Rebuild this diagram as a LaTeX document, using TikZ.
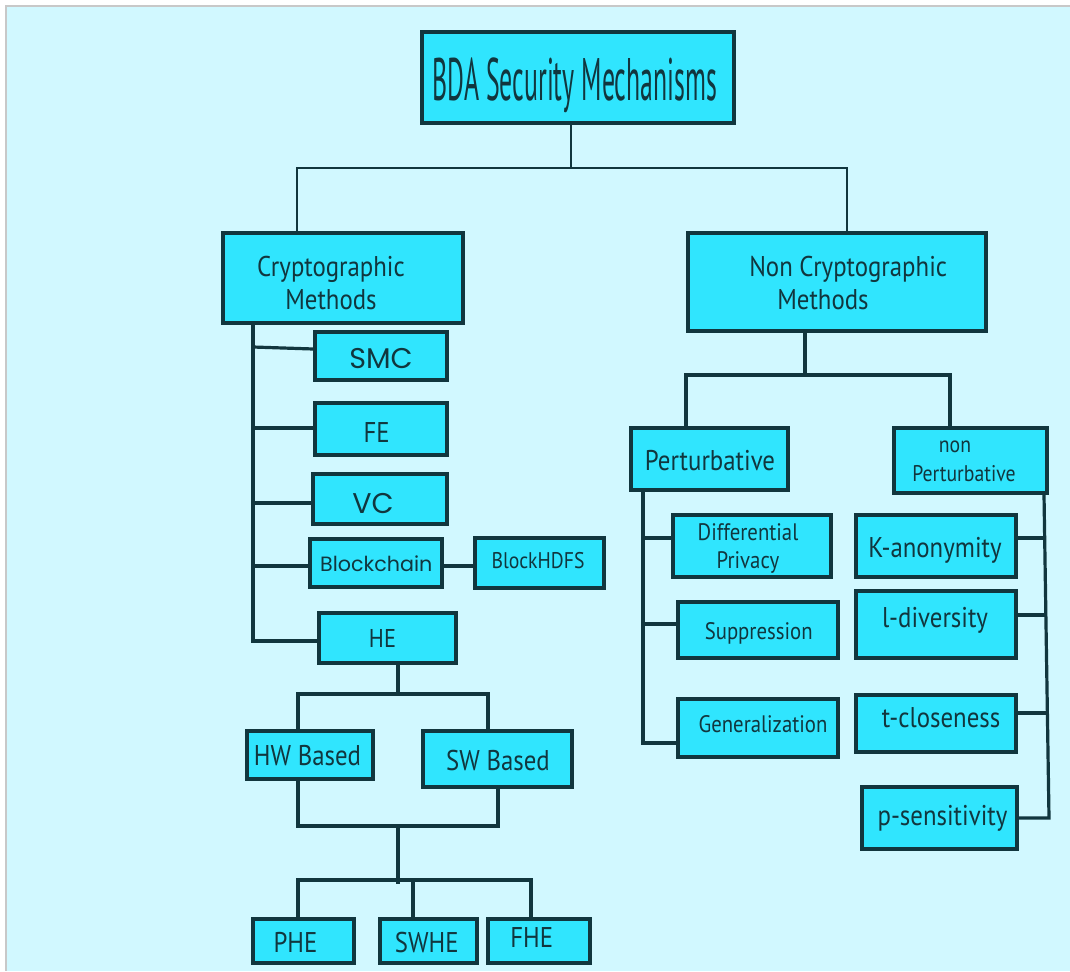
\documentclass[tikz,border=0pt]{standalone}
\usepackage{fontspec}
\setmainfont{PT Sans}[FakeStretch=0.87]
\newfontfamily\titlefont{PT Sans}[FakeStretch=0.43]
\newfontfamily\widefont{Poppins}
\usetikzlibrary{calc}
\definecolor{bgc}{HTML}{D1F8FF}
\definecolor{boxfill}{HTML}{30E5FE}
\definecolor{ink}{HTML}{11363E}
\definecolor{framec}{HTML}{C8C8C8}
\newcommand\mybox[9]{%
  \node[box,sz={#4}{#5}] (#1) at (#2,#3) {};
  \node[txt,#8] (#1T) at (#6,#7) {#9};}
\begin{document}
\begin{tikzpicture}[x=0.75pt,y=-0.75pt,
  box/.style={draw=ink,fill=boxfill,line width=2.6pt,inner sep=0pt},
  sz/.style 2 args={minimum width={#1*0.75pt},minimum height={#2*0.75pt}},
  txt/.style={inner sep=0pt,text=ink,anchor=base},
  conn/.style={draw=ink,line width=2.4pt},
  tconn/.style={draw=ink,line width=2pt},
  ft/.style={font=\titlefont\fontsize{45}{50}\selectfont},
  f20/.style={font=\fontsize{21.4}{24.75}\selectfont},
  f19/.style={font=\fontsize{19.3}{22}\selectfont},
  f18/.style={font=\fontsize{17.9}{21}\selectfont},
  f17/.style={font=\fontsize{17}{21.75}\selectfont},
  w20/.style={font=\widefont\fontsize{21.4}{24}\selectfont},
  w14/.style={font=\widefont\fontsize{15.5}{18}\selectfont}]
\useasboundingbox (0,0) rectangle (1070,971);
\fill[white] (0,0) rectangle (1070,971);
\fill[framec] (5,5) rectangle (1070,971);
\fill[bgc] (7,7) rectangle (1070,971);

\mybox{title}{578}{77.5}{312}{91}{575}{100}{ft}{BDA Security Mechanisms}
\mybox{crypto}{343}{278}{240}{90}{331}{283}{f20,anchor=center,align=center}{Cryptographic\\Methods}
\mybox{noncrypto}{837}{282}{298}{98}{749}{283}{f20,anchor=west,align=left}{Non Cryptographic\\\hspace*{21pt}Methods}
\mybox{pert}{709.5}{459}{157}{62}{710}{470}{f20}{Perturbative}
\mybox{nonpert}{970.5}{460.5}{153}{65}{912}{461.5}{f17,anchor=west,align=left}{\hspace*{20pt}non\\Perturbative}
\mybox{diffpriv}{752}{546}{158}{62}{748}{548}{f18,anchor=center,align=center}{Differential\\Privacy}
\mybox{supp}{758}{630}{160}{56}{758.7}{639}{f18}{Suppression}
\mybox{gen}{758}{728}{160}{58}{763}{732}{f18}{Generalization}
\mybox{kanon}{936}{546}{160}{62}{935}{557}{f20}{K-anonymity}
\mybox{ldiv}{936}{624.5}{160}{67}{935}{627}{f20}{l-diversity}
\mybox{tclose}{936}{723.5}{160}{57}{941}{727}{f20}{t-closeness}
\mybox{psens}{939.5}{818}{155}{62}{942.5}{825}{f20}{p-sensitivity}
\mybox{smc}{381}{356}{132}{48}{381}{368}{w20}{SMC}
\mybox{fe}{381}{429}{132}{52}{376.7}{442}{f20}{FE}
\mybox{vc}{380}{499}{134}{50}{373}{513}{w20}{VC}
\mybox{blockchain}{376}{563}{132}{48}{376.3}{571}{w14}{Blockchain}
\mybox{blockhdfs}{539.5}{563}{129}{50}{538}{568}{f17}{BlockHDFS}
\mybox{he}{387.5}{638}{137}{50}{382.5}{647}{f19}{HE}
\mybox{hw}{310}{755}{126}{48}{307.5}{765}{f20}{HW Based}
\mybox{sw}{497.5}{759}{149}{56}{498}{770}{f20}{SW Based}
\mybox{phe}{303.5}{941}{101}{44}{295.5}{952}{f20}{PHE}
\mybox{swhe}{428.5}{941}{97}{44}{426.7}{952}{f20}{SWHE}
\mybox{fhe}{539}{941}{102}{44}{531.7}{947}{f20}{FHE}

% top level
\coordinate (j1) at (571,168);
\coordinate (j1l) at (297,168);
\coordinate (j1r) at (847,168);
\draw[tconn] (title.south -| j1) -- (j1);
\draw[tconn] (crypto.north -| j1l) -- (j1l) -- (j1r) -- (noncrypto.north -| j1r);

% non cryptographic
\coordinate (j2) at (805,375);
\coordinate (j2l) at (686,375);
\coordinate (j2r) at (950,375);
\draw[conn] (noncrypto.south -| j2) -- (j2);
\draw[conn] (pert.north -| j2l) -- (j2l) -- (j2r) -- (nonpert.north -| j2r);

% cryptographic trunk
\coordinate (ct) at (253,641);
\draw[conn] (crypto.south -| ct) -- (ct) -- (he.west |- ct);
\draw[conn] (ct |- 0,347) -- (smc.west |- 0,349);
\draw[conn] (ct |- 0,428) -- (fe.west |- 0,428);
\draw[conn] (ct |- 0,503) -- (vc.west |- 0,503);
\draw[conn] (ct |- 0,566) -- (blockchain.west |- 0,566);
\draw[conn] (blockchain.east |- 0,566) -- (blockhdfs.west |- 0,566);

% HE subtree
\coordinate (j3) at (398,694);
\coordinate (j3l) at (298,694);
\coordinate (j3r) at (488,694);
\draw[conn] (he.south -| j3) -- (j3);
\draw[conn] (hw.north -| j3l) -- (j3l) -- (j3r) -- (sw.north -| j3r);
\coordinate (j4) at (398,826);
\coordinate (j4l) at (298,826);
\coordinate (j4r) at (498,826);
\coordinate (j5) at (398,884);
\draw[conn] (hw.south -| j4l) -- (j4l) -- (j4r) -- (sw.south -| j4r);
\draw[conn] (j4) -- (j5);
\coordinate (j5l) at (298,880);
\coordinate (j5m) at (413,880);
\coordinate (j5r) at (531,880);
\draw[conn] (phe.north -| j5l) -- (j5l) -- (j5r) -- (fhe.north -| j5r);
\draw[conn] (j5m) -- (swhe.north -| j5m);

% perturbative trunk
\coordinate (pt) at (643,743);
\draw[conn] (pert.south -| pt) -- (pt) -- (gen.west |- pt);
\draw[conn] (pt |- 0,538) -- (diffpriv.west |- 0,538);
\draw[conn] (pt |- 0,624) -- (supp.west |- 0,624);

% non perturbative trunk
\coordinate (rt0) at (1044,0);
\coordinate (rt) at (1049,818);
\coordinate (r1) at (1045.2,538);
\coordinate (r2) at (1046.4,615);
\coordinate (r3) at (1047.9,713);
\draw[conn] (nonpert.south -| rt0) -- (rt) -- (psens.east |- rt);
\draw[conn] (kanon.east |- r1) -- (r1);
\draw[conn] (ldiv.east |- r2) -- (r2);
\draw[conn] (tclose.east |- r3) -- (r3);
\end{tikzpicture}
\end{document}
